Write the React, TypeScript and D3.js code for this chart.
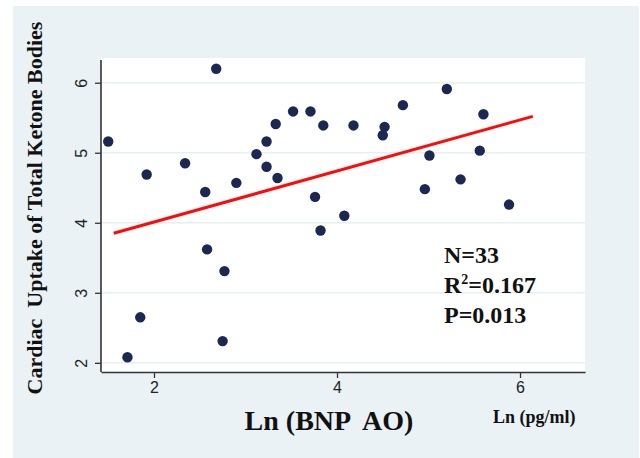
import React, { useEffect, useRef } from "react";
import * as d3 from "d3";

// data --------------------------------------------------------------------
const lnBnp = [
  1.5, 1.92, 2.34, 2.68, 2.56, 2.9, 3.12, 3.23, 3.23, 3.33, 3.35,
  3.52, 3.71, 3.85, 3.76, 4.08, 4.18, 4.52, 4.5, 4.72, 5.2, 5.6,
  5.01, 5.56, 4.96, 5.35, 5.88, 3.82, 2.58, 2.77, 1.85, 2.75, 1.71,
];
const ketoneUptake = [
  5.16, 4.69, 4.85, 6.2, 4.44, 4.57, 4.98, 5.16, 4.8, 5.41, 4.64,
  5.59, 5.59, 5.39, 4.37, 4.1, 5.39, 5.37, 5.25, 5.68, 5.91, 5.55,
  4.96, 5.03, 4.48, 4.62, 4.26, 3.89, 3.62, 3.31, 2.65, 2.31, 2.08,
];
// fitted regression line (ends)
const fitX = [1.56, 6.14];
const fitY = [3.85, 5.52];

const xTicks = [2, 4, 6];
const yTicks = [2, 3, 4, 5, 6];
const statLines = ["N=33", "R2=0.167", "P=0.013"];

const App = () => {
  const ref = useRef<SVGSVGElement>(null);
  const [width, height] = [640, 458];
  const serif = "'Liberation Serif', 'Times New Roman', serif";
  const sans = "'Liberation Sans', Arial, sans-serif";

  useEffect(() => {
    const svg = d3.select(ref.current);
    svg.selectAll("*").remove();

    const left = 101, right = 585, top = 58, bottom = 372;

    const x = d3.scaleLinear().domain([1.421, 6.71]).range([left, right]);
    const y = d3.scaleLinear().domain([1.869, 6.353]).range([bottom, top]);

    // outer panel
    svg.append("rect")
      .attr("x", 13).attr("y", 6)
      .attr("width", 626).attr("height", 452)
      .attr("fill", "#eaf2f5");

    // plot region
    svg.append("rect")
      .attr("x", left).attr("y", top)
      .attr("width", right - left).attr("height", bottom - top)
      .attr("fill", "#ffffff");

    // grid lines
    svg.append("g")
      .selectAll("line")
      .data(yTicks)
      .join("line")
      .attr("x1", left).attr("x2", right)
      .attr("y1", (d) => y(d)).attr("y2", (d) => y(d))
      .attr("stroke", "#e6eff1")
      .attr("stroke-width", 1.5);

    // y axis
    const yAxis = svg.append("g")
      .attr("transform", `translate(${left},0)`)
      .call(d3.axisLeft(y).tickValues(yTicks).tickFormat(d3.format("d")).tickSize(6).tickSizeOuter(0));
    yAxis.select(".domain").attr("stroke", "#333").attr("stroke-width", 1.6)
      .attr("d", `M0,${top + 2}V${bottom}`);
    yAxis.selectAll(".tick line").attr("stroke", "#333").attr("stroke-width", 1.3);
    yAxis.selectAll(".tick text")
      .attr("font-family", sans).attr("font-size", 16).attr("fill", "#222")
      .attr("text-anchor", "middle")
      .attr("x", 0).attr("y", 0)
      .attr("transform", "translate(-20,0) rotate(-90)")
      .attr("dy", "0.36em");

    // x axis
    const xAxis = svg.append("g")
      .attr("transform", `translate(0,${bottom})`)
      .call(d3.axisBottom(x).tickValues(xTicks).tickFormat(d3.format("d")).tickSize(6).tickSizeOuter(0).tickPadding(4));
    xAxis.select(".domain").attr("stroke", "#333").attr("stroke-width", 1.6);
    xAxis.selectAll(".tick line").attr("stroke", "#333").attr("stroke-width", 1.3);
    xAxis.selectAll(".tick text")
      .attr("font-family", sans).attr("font-size", 16).attr("fill", "#222");

    // points
    svg.append("g")
      .selectAll("circle")
      .data(lnBnp.map((v, i) => [v, ketoneUptake[i]]))
      .join("circle")
      .attr("cx", (d) => x(d[0]))
      .attr("cy", (d) => y(d[1]))
      .attr("r", 5.2)
      .attr("fill", "#1b2852");

    // regression line
    const line = d3.line<number>()
      .x((d) => x(d))
      .y((d, i) => y(fitY[i]));
    svg.append("path")
      .datum(fitX)
      .attr("d", line)
      .attr("fill", "none")
      .attr("stroke", "#ff0a0a")
      .attr("stroke-width", 3);

    // stats
    const stats = svg.append("g")
      .attr("font-family", serif)
      .attr("font-weight", "bold")
      .attr("font-size", 24)
      .attr("fill", "#111");
    statLines.forEach((s, i) => {
      const t = stats.append("text").attr("x", 444).attr("y", 263 + i * 30);
      if (s.startsWith("R2")) {
        t.append("tspan").text("R");
        t.append("tspan").attr("font-size", 14).attr("dy", -9).text("2");
        t.append("tspan").attr("dy", 9).text(s.slice(2));
      } else {
        t.text(s);
      }
    });

    // axis titles
    svg.append("text")
      .attr("x", 329).attr("y", 430)
      .attr("text-anchor", "middle")
      .attr("font-family", serif).attr("font-weight", "bold")
      .attr("font-size", 28).attr("fill", "#111")
      .style("white-space", "pre")
      .text("Ln (BNP  AO)");

    svg.append("text")
      .attr("x", 493).attr("y", 423)
      .attr("font-family", serif).attr("font-weight", "bold")
      .attr("font-size", 18).attr("fill", "#111")
      .text("Ln (pg/ml)");

    svg.append("text")
      .attr("transform", "translate(42,208) rotate(-90)")
      .attr("text-anchor", "middle")
      .attr("font-family", serif).attr("font-weight", "bold")
      .attr("font-size", 22).attr("fill", "#111")
      .style("white-space", "pre")
      .text("Cardiac  Uptake of Total Ketone Bodies");
  }, []);

  return (
    <svg
      ref={ref}
      width={width}
      height={height}
      style={{ position: "absolute", left: 0, top: 0, display: "block", background: "#fff" }}
    ></svg>
  );
};

export default App;
